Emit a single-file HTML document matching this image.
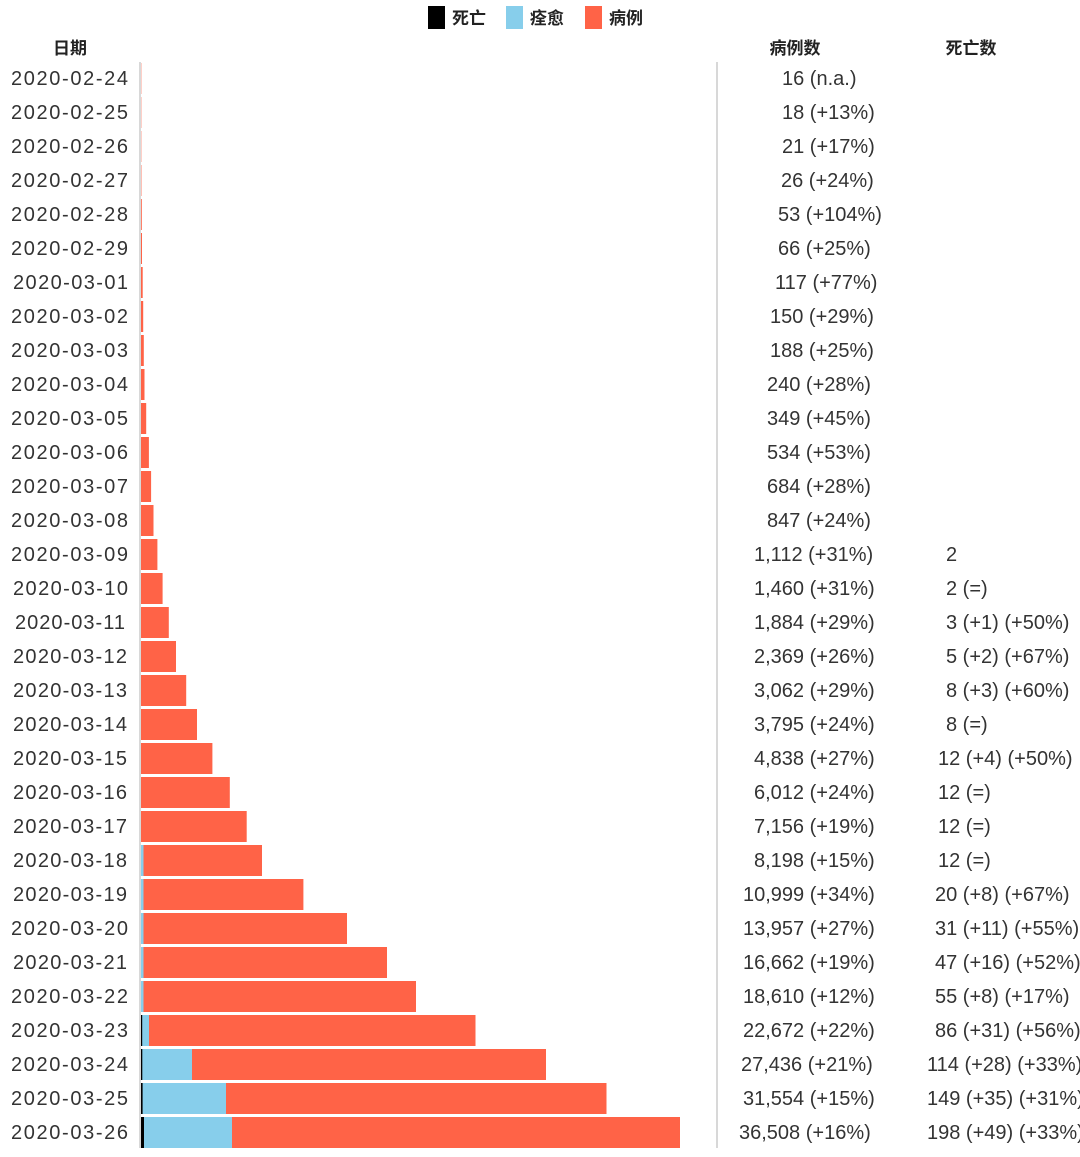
<!DOCTYPE html>
<html><head><meta charset="utf-8"><style>
html,body{margin:0;padding:0;background:#fff;}
svg{display:block;}
text{font-family:"Liberation Sans","Noto Sans CJK SC",sans-serif;fill:#333;font-size:20px;}
.h{font-weight:bold;font-size:17px;fill:#222;}
</style></head><body>
<svg width="1080" height="1157" viewBox="0 0 1080 1157" xmlns="http://www.w3.org/2000/svg">
<rect x="428" y="6" width="17" height="23" fill="#000"/><text class="h" x="452" y="24">死亡</text>
<rect x="506" y="6" width="17" height="23" fill="#87ceeb"/><text class="h" x="530" y="24">痊愈</text>
<rect x="585" y="6" width="17" height="23" fill="#ff6347"/><text class="h" x="609" y="24">病例</text>
<text class="h" x="70" y="54" text-anchor="middle">日期</text>
<text class="h" x="795" y="54" text-anchor="middle">病例数</text>
<text class="h" x="971" y="54" text-anchor="middle">死亡数</text>
<line x1="140" y1="62" x2="140" y2="1148" stroke="#ccc" stroke-width="1.5"/>
<line x1="717" y1="62" x2="717" y2="1148" stroke="#ccc" stroke-width="1.5"/>
<g fill="#ff6347">
<rect x="141" y="63" width="0.3" height="31"/>
<rect x="141" y="97" width="0.3" height="31"/>
<rect x="141" y="131" width="0.3" height="31"/>
<rect x="141" y="165" width="0.4" height="31"/>
<rect x="141" y="199" width="0.8" height="31"/>
<rect x="141" y="233" width="1" height="31"/>
<rect x="141" y="267" width="1.7" height="31"/>
<rect x="141" y="301" width="2.2" height="31"/>
<rect x="141" y="335" width="2.8" height="31"/>
<rect x="141" y="369" width="3.5" height="31"/>
<rect x="141" y="403" width="5.2" height="31"/>
<rect x="141" y="437" width="7.9" height="31"/>
<rect x="141" y="471" width="10.1" height="31"/>
<rect x="141" y="505" width="12.5" height="31"/>
<rect x="141" y="539" width="16.4" height="31"/>
<rect x="141" y="573" width="21.6" height="31"/>
<rect x="141" y="607" width="27.8" height="31"/>
<rect x="141" y="641" width="35" height="31"/>
<rect x="141" y="675" width="45.2" height="31"/>
<rect x="141" y="709" width="56" height="31"/>
<rect x="141" y="743" width="71.4" height="31"/>
<rect x="141" y="777" width="88.8" height="31"/>
<rect x="141" y="811" width="105.7" height="31"/>
<rect x="141" y="845" width="121" height="31"/>
<rect x="141" y="879" width="162.4" height="31"/>
<rect x="141" y="913" width="206" height="31"/>
<rect x="141" y="947" width="246" height="31"/>
<rect x="141" y="981" width="275" height="31"/>
<rect x="141" y="1015" width="334.5" height="31"/>
<rect x="141" y="1049" width="405" height="31"/>
<rect x="141" y="1083" width="465.5" height="31"/>
<rect x="141" y="1117" width="539" height="31"/>
</g>
<g fill="#87ceeb">
<rect x="141" y="845" width="2.5" height="31"/>
<rect x="141" y="879" width="2.5" height="31"/>
<rect x="141" y="913" width="2.5" height="31"/>
<rect x="141" y="947" width="2.5" height="31"/>
<rect x="141" y="981" width="2.5" height="31"/>
<rect x="141" y="1015" width="8" height="31"/>
<rect x="141" y="1049" width="51" height="31"/>
<rect x="141" y="1083" width="85" height="31"/>
<rect x="141" y="1117" width="91" height="31"/>
</g>
<g fill="#000">
<rect x="141" y="1015" width="1.2" height="31"/>
<rect x="141" y="1049" width="1.3" height="31"/>
<rect x="141" y="1083" width="1.6" height="31"/>
<rect x="141" y="1117" width="3" height="31"/>
</g>
<g>
<text x="11" y="85" textLength="117" lengthAdjust="spacing">2020-02-24</text>
<text x="11" y="119" textLength="117" lengthAdjust="spacing">2020-02-25</text>
<text x="11" y="153" textLength="117" lengthAdjust="spacing">2020-02-26</text>
<text x="11" y="187" textLength="117" lengthAdjust="spacing">2020-02-27</text>
<text x="11" y="221" textLength="117" lengthAdjust="spacing">2020-02-28</text>
<text x="11" y="255" textLength="117" lengthAdjust="spacing">2020-02-29</text>
<text x="13" y="289" textLength="115" lengthAdjust="spacing">2020-03-01</text>
<text x="11" y="323" textLength="117" lengthAdjust="spacing">2020-03-02</text>
<text x="11" y="357" textLength="117" lengthAdjust="spacing">2020-03-03</text>
<text x="11" y="391" textLength="117" lengthAdjust="spacing">2020-03-04</text>
<text x="11" y="425" textLength="117" lengthAdjust="spacing">2020-03-05</text>
<text x="11" y="459" textLength="117" lengthAdjust="spacing">2020-03-06</text>
<text x="11" y="493" textLength="117" lengthAdjust="spacing">2020-03-07</text>
<text x="11" y="527" textLength="117" lengthAdjust="spacing">2020-03-08</text>
<text x="11" y="561" textLength="117" lengthAdjust="spacing">2020-03-09</text>
<text x="13" y="595" textLength="115" lengthAdjust="spacing">2020-03-10</text>
<text x="15" y="629" textLength="110" lengthAdjust="spacing">2020-03-11</text>
<text x="13" y="663" textLength="114" lengthAdjust="spacing">2020-03-12</text>
<text x="13" y="697" textLength="114" lengthAdjust="spacing">2020-03-13</text>
<text x="13" y="731" textLength="114" lengthAdjust="spacing">2020-03-14</text>
<text x="13" y="765" textLength="114" lengthAdjust="spacing">2020-03-15</text>
<text x="13" y="799" textLength="114" lengthAdjust="spacing">2020-03-16</text>
<text x="13" y="833" textLength="114" lengthAdjust="spacing">2020-03-17</text>
<text x="13" y="867" textLength="114" lengthAdjust="spacing">2020-03-18</text>
<text x="13" y="901" textLength="114" lengthAdjust="spacing">2020-03-19</text>
<text x="11" y="935" textLength="117" lengthAdjust="spacing">2020-03-20</text>
<text x="13" y="969" textLength="114" lengthAdjust="spacing">2020-03-21</text>
<text x="11" y="1003" textLength="117" lengthAdjust="spacing">2020-03-22</text>
<text x="11" y="1037" textLength="117" lengthAdjust="spacing">2020-03-23</text>
<text x="11" y="1071" textLength="117" lengthAdjust="spacing">2020-03-24</text>
<text x="11" y="1105" textLength="117" lengthAdjust="spacing">2020-03-25</text>
<text x="11" y="1139" textLength="117" lengthAdjust="spacing">2020-03-26</text>
</g>
<g>
<text x="782" y="85">16 (n.a.)</text>
<text x="782" y="119">18 (+13%)</text>
<text x="782" y="153">21 (+17%)</text>
<text x="781" y="187">26 (+24%)</text>
<text x="778" y="221">53 (+104%)</text>
<text x="778" y="255">66 (+25%)</text>
<text x="775" y="289">117 (+77%)</text>
<text x="770" y="323">150 (+29%)</text>
<text x="770" y="357">188 (+25%)</text>
<text x="767" y="391">240 (+28%)</text>
<text x="767" y="425">349 (+45%)</text>
<text x="767" y="459">534 (+53%)</text>
<text x="767" y="493">684 (+28%)</text>
<text x="767" y="527">847 (+24%)</text>
<text x="754" y="561">1,112 (+31%)</text>
<text x="754" y="595">1,460 (+31%)</text>
<text x="754" y="629">1,884 (+29%)</text>
<text x="754" y="663">2,369 (+26%)</text>
<text x="754" y="697">3,062 (+29%)</text>
<text x="754" y="731">3,795 (+24%)</text>
<text x="754" y="765">4,838 (+27%)</text>
<text x="754" y="799">6,012 (+24%)</text>
<text x="754" y="833">7,156 (+19%)</text>
<text x="754" y="867">8,198 (+15%)</text>
<text x="743" y="901">10,999 (+34%)</text>
<text x="743" y="935">13,957 (+27%)</text>
<text x="743" y="969">16,662 (+19%)</text>
<text x="743" y="1003">18,610 (+12%)</text>
<text x="743" y="1037">22,672 (+22%)</text>
<text x="741" y="1071">27,436 (+21%)</text>
<text x="743" y="1105">31,554 (+15%)</text>
<text x="739" y="1139">36,508 (+16%)</text>
</g>
<g>
<text x="946" y="561">2</text>
<text x="946" y="595">2 (=)</text>
<text x="946" y="629">3 (+1) (+50%)</text>
<text x="946" y="663">5 (+2) (+67%)</text>
<text x="946" y="697">8 (+3) (+60%)</text>
<text x="946" y="731">8 (=)</text>
<text x="938" y="765">12 (+4) (+50%)</text>
<text x="938" y="799">12 (=)</text>
<text x="938" y="833">12 (=)</text>
<text x="938" y="867">12 (=)</text>
<text x="935" y="901">20 (+8) (+67%)</text>
<text x="935" y="935">31 (+11) (+55%)</text>
<text x="935" y="969">47 (+16) (+52%)</text>
<text x="935" y="1003">55 (+8) (+17%)</text>
<text x="935" y="1037">86 (+31) (+56%)</text>
<text x="927" y="1071">114 (+28) (+33%)</text>
<text x="927" y="1105">149 (+35) (+31%)</text>
<text x="927" y="1139">198 (+49) (+33%)</text>
</g>
</svg>
</body></html>
